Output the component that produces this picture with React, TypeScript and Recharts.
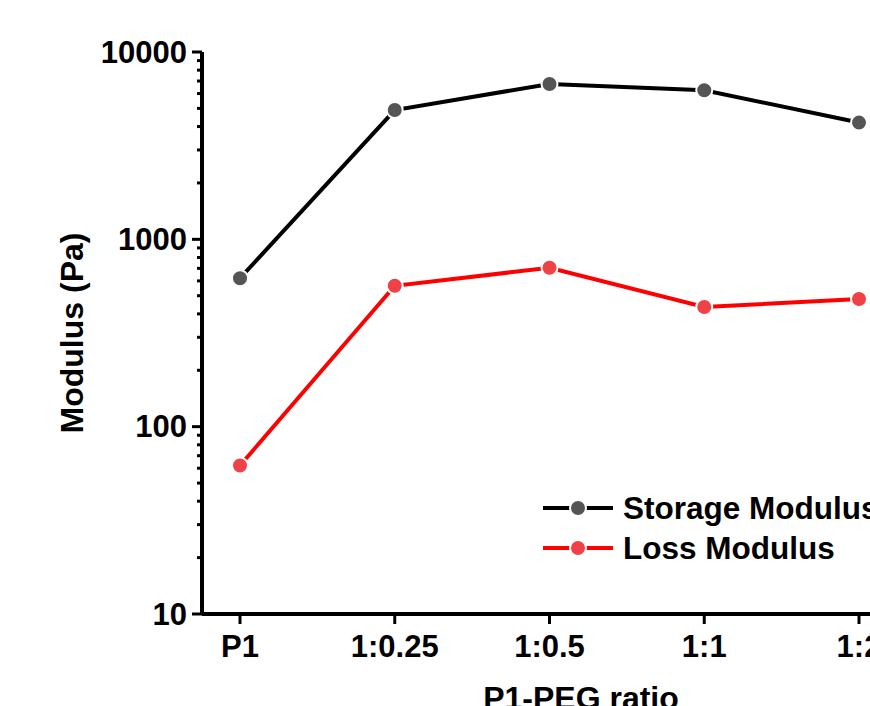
import React from "react";
import { LineChart, Line, XAxis, YAxis } from "recharts";

// values (log axis)
const categories = ["P1", "1:0.25", "1:0.5", "1:1", "1:2"];
const storageModulus = [620, 4900, 6750, 6250, 4200];
const lossModulus = [62, 565, 705, 435, 480];
const majorTicks = [10, 100, 1000, 10000];
const minorFactors = [2, 3, 4, 5, 6, 7, 8, 9];

const data = categories.map((name, i) => ({
  name,
  storage: storageModulus[i],
  loss: lossModulus[i],
}));

const yTicks: number[] = [];
majorTicks.forEach((m, i) => {
  yTicks.push(m);
  if (i < majorTicks.length - 1) minorFactors.forEach((f) => yTicks.push(m * f));
});

const FONT = "'Liberation Sans', Arial, sans-serif";

const YTick = (props: any) => {
  const { x, y, payload } = props;
  const v = payload.value;
  const major = majorTicks.includes(v);
  return (
    <g>
      <line x1={x - (major ? 10 : 5)} x2={x} y1={y} y2={y} stroke="#000" strokeWidth={3} />
      {major && (
        <text
          x={x - 15}
          y={y}
          textAnchor="end"
          dominantBaseline="central"
          fontFamily={FONT}
          fontWeight="bold"
          fontSize={31}
          fill="#000"
        >
          {v}
        </text>
      )}
    </g>
  );
};

const Legend = () => {
  const items = [
    { label: "Storage Modulus", line: "#000000", dot: "#555555" },
    { label: "Loss Modulus", line: "#ff0000", dot: "#ef4146" },
  ];
  return (
    <div style={{ position: "absolute", left: 543, top: 488, width: 420 }}>
      {items.map((it) => (
        <div key={it.label} style={{ display: "flex", alignItems: "center", height: 40 }}>
          <svg width={80} height={20} style={{ flexShrink: 0 }}>
            <line x1={0} x2={70} y1={10} y2={10} stroke={it.line} strokeWidth={4} />
            <circle cx={35} cy={10} r={8} fill={it.dot} stroke="#fff" strokeWidth={2} />
          </svg>
          <span
            style={{
              fontFamily: FONT,
              fontWeight: "bold",
              fontSize: 31.5,
              whiteSpace: "nowrap",
              flexShrink: 0,
            }}
          >
            {it.label}
          </span>
        </div>
      ))}
    </div>
  );
};

export default function App() {
  return (
    <div
      style={{
        position: "relative",
        width: 870,
        height: 706,
        overflow: "hidden",
        boxSizing: "border-box",
        padding: "8px 0 0 8px",
      }}
    >
      <style>{"body { margin: 0; }"}</style>
      <LineChart
        width={1000}
        height={760}
        data={data}
        margin={{ top: 44, right: 111, bottom: 0, left: 0 }}
      >
        <XAxis
          dataKey="name"
          height={154}
          padding={{ left: 38, right: 38 }}
          axisLine={{ stroke: "#000", strokeWidth: 4 }}
          tickLine={{ stroke: "#000", strokeWidth: 3 }}
          tickSize={10}
          tickMargin={11}
          interval={0}
          tick={{ fill: "#000", fontFamily: FONT, fontWeight: "bold", fontSize: 31 }}
          label={{
            content: () => (
              <text
                x={573}
                y={701}
                textAnchor="middle"
                fontFamily={FONT}
                fontWeight="bold"
                fontSize={32}
                fill="#000"
              >
                P1-PEG ratio
              </text>
            ),
          }}
        />
        <YAxis
          scale="log"
          domain={[10, 10000]}
          allowDataOverflow
          ticks={yTicks}
          interval={0}
          width={194}
          axisLine={{ stroke: "#000", strokeWidth: 4 }}
          tickLine={false}
          tickSize={0}
          tickMargin={0}
          tick={<YTick />}
          label={{
            content: () => (
              <text
                x={64}
                y={325}
                transform="rotate(-90 64 325)"
                textAnchor="middle"
                dominantBaseline="central"
                fontFamily={FONT}
                fontWeight="bold"
                fontSize={32}
                fill="#000"
              >
                Modulus (Pa)
              </text>
            ),
          }}
        />
        <Line
          dataKey="storage"
          stroke="#000000"
          strokeWidth={4}
          dot={{ r: 8, fill: "#555555", stroke: "#fff", strokeWidth: 2 }}
          activeDot={false}
          isAnimationActive={false}
        />
        <Line
          dataKey="loss"
          stroke="#ff0000"
          strokeWidth={4}
          dot={{ r: 8, fill: "#ef4146", stroke: "#fff", strokeWidth: 2 }}
          activeDot={false}
          isAnimationActive={false}
        />
      </LineChart>
      <Legend />
    </div>
  );
}
